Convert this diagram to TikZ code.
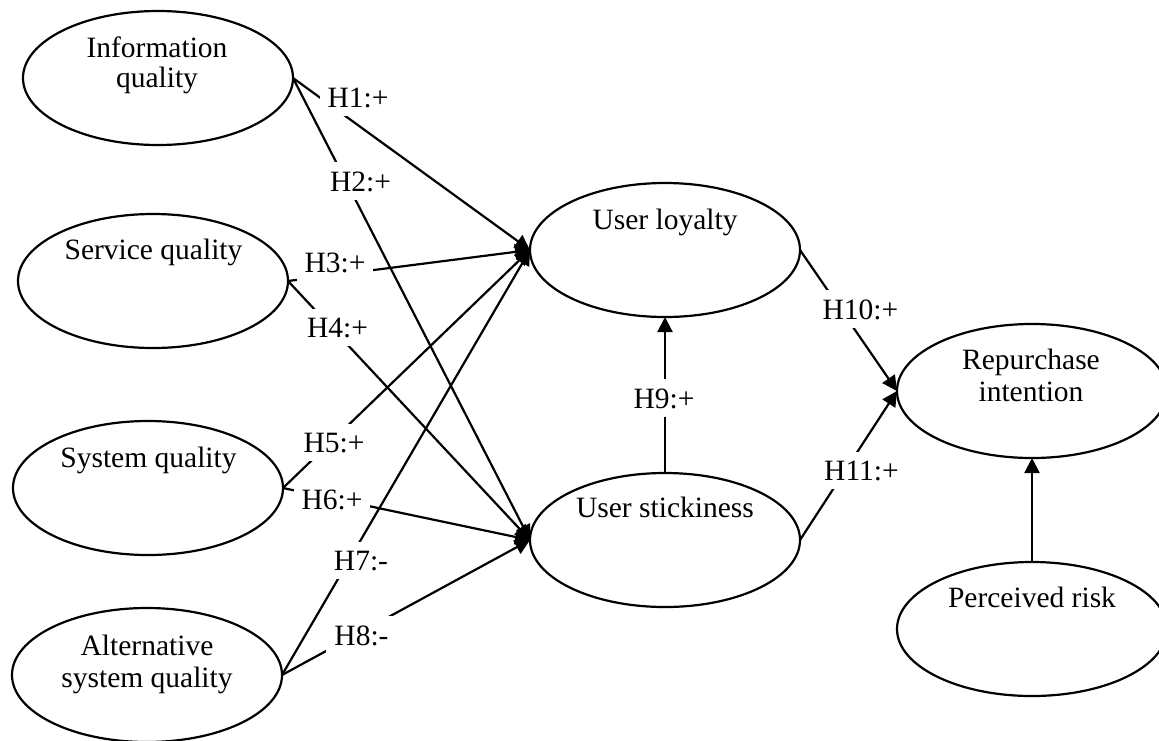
\documentclass[tikz,border=0pt]{standalone}
\usepackage{fontspec}
\setmainfont{Liberation Serif}
\usetikzlibrary{shapes.geometric,arrows.meta}
\tikzset{
  ell/.style={ellipse,draw,line width=2.2pt,minimum width=270pt,minimum height=134pt,inner sep=0pt,outer sep=0pt},
  txt/.style={anchor=base,inner sep=0pt,font=\fontsize{29.5pt}{31pt}\selectfont},
  lbl/.style={anchor=base,fill=white,inner xsep=8pt,inner ysep=9pt,font=\fontsize{29.5pt}{31pt}\selectfont},
  edge/.style={line width=2.2pt,-{Triangle[length=15pt,width=15pt]}}
}
\begin{document}
\begin{tikzpicture}[x=1pt,y=-1pt]
\useasboundingbox (0,0) rectangle (1159,740);
% ellipses
\node[ell] (iq) at (158,78) {};
\node[ell] (sq) at (153,281) {};
\node[ell] (syq) at (148,488) {};
\node[ell] (asq) at (147,675) {};
\node[ell] (ul) at (665,250) {};
\node[ell] (us) at (665,540) {};
\node[ell] (ri) at (1032,391) {};
\node[ell] (pr) at (1032,629) {};
% texts
\node[txt] (iqt1) at (157,57) {Information};
\node[txt] (iqt2) at (157,87) {quality};
\node[txt] (sqt) at (153.5,259) {Service quality};
\node[txt] (syqt) at (148.5,467) {System quality};
\node[txt] (asqt1) at (147,655) {Alternative};
\node[txt] (asqt2) at (147,687) {system quality};
\node[txt] (ult) at (665,229) {User loyalty};
\node[txt] (ust) at (665,517) {User stickiness};
\node[txt] (rit1) at (1031,369) {Repurchase};
\node[txt] (rit2) at (1031,401) {intention};
\node[txt] (prt) at (1032,607) {Perceived risk};
% connectors
\draw[edge] (iq.east) -- (ul.west);
\draw[edge] (iq.east) -- (us.west);
\draw[edge] (sq.east) -- (ul.west);
\draw[edge] (sq.east) -- (us.west);
\draw[edge] (syq.east) -- (ul.west);
\draw[edge] (syq.east) -- (us.west);
\draw[edge] (asq.east) -- (ul.west);
\draw[edge] (asq.east) -- (us.west);
\draw[edge] (us.north) -- (ul.south);
\draw[edge] (ul.east) -- (ri.west);
\draw[edge] (us.east) -- (ri.west);
\draw[edge] (pr.north) -- (ri.south);
% labels
\node[lbl] (h1) at (358,107) {H1:+};
\node[lbl] (h2) at (360.5,191) {H2:+};
\node[lbl] (h3) at (335,272) {H3:+};
\node[lbl] (h4) at (337.5,337) {H4:+};
\node[lbl] (h5) at (334,452) {H5:+};
\node[lbl] (h6) at (332,509) {H6:+};
\node[lbl] (h7) at (361,570) {H7:-};
\node[lbl] (h8) at (361.5,645) {H8:-};
\node[lbl] (h9) at (664,408) {H9:+};
\node[lbl] (h10) at (860.5,319) {H10:+};
\node[lbl] (h11) at (861.5,480) {H11:+};
\end{tikzpicture}
\end{document}
